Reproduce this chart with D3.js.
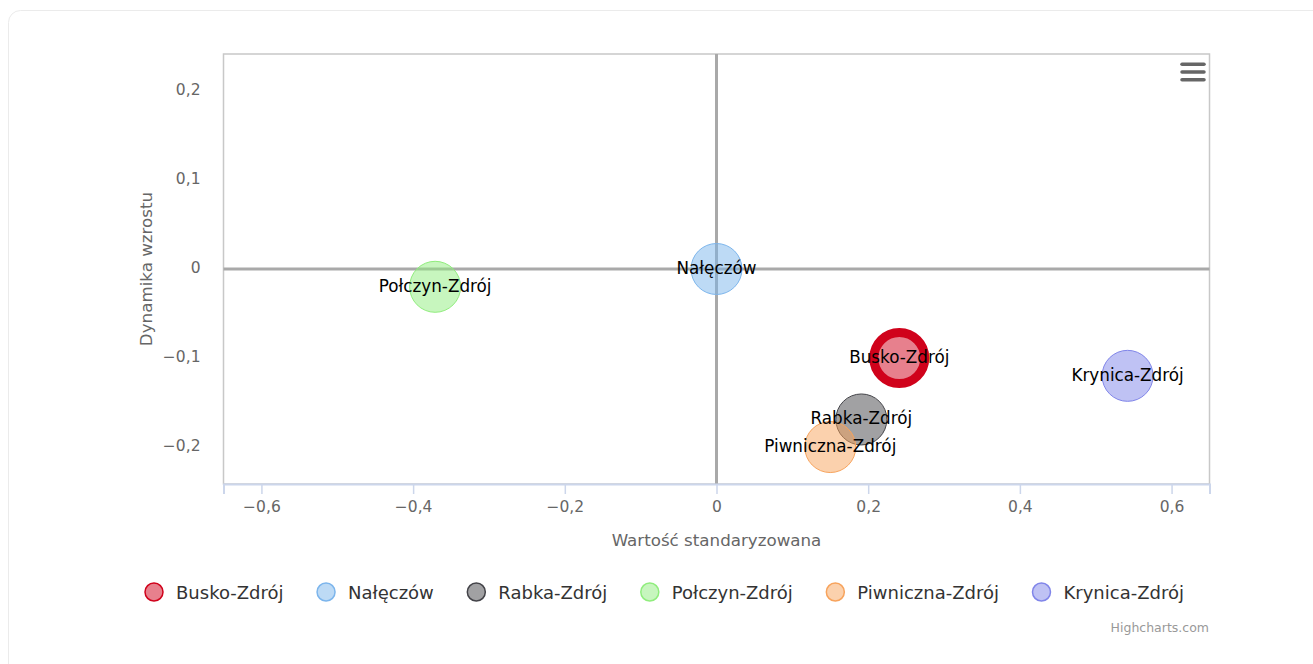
<!DOCTYPE html>
<html>
<head>
<meta charset="utf-8">
<script src="https://cdn.jsdelivr.net/npm/d3@7"></script>
<style>
  body { margin: 0; background: #ffffff; }
  text { font-family: "DejaVu Sans", sans-serif; }
</style>
</head>
<body>
<div id="chart"></div>
<script>
// data
var seriesNames = ["Busko-Zdrój", "Nałęczów", "Rabka-Zdrój", "Połczyn-Zdrój", "Piwniczna-Zdrój", "Krynica-Zdrój"];
var xValues = [0.241, 0.0, 0.191, -0.371, 0.150, 0.542];
var yValues = [-0.100, 0.0, -0.169, -0.020, -0.200, -0.120];
var zValues = [1, 1, 1, 1, 1, 1];
var seriesColors = ["#d0021b", "#7cb5ec", "#434348", "#90ed7d", "#f7a35c", "#8085e9"];
var xTicks = [-0.6, -0.4, -0.2, 0, 0.2, 0.4, 0.6];
var yTicks = [-0.2, -0.1, 0, 0.1, 0.2];

var width = 1313, height = 664;
var plotLeft = 223.5, plotRight = 1209.5, plotTop = 54, plotBottom = 484;

var pl = d3.formatLocale({decimal: ",", thousands: " ", grouping: [3], currency: ["", ""], minus: "\u2212"});
var fmt = function(v) { return v === 0 ? "0" : pl.format(".1f")(v); };

var points = seriesNames.map(function(n, i) {
  return {name: n, x: xValues[i], y: yValues[i], z: zValues[i], color: seriesColors[i]};
});

var svg = d3.select("#chart").append("svg")
  .attr("width", width)
  .attr("height", height);

// card
svg.append("rect")
  .attr("x", 8.5).attr("y", 10.5)
  .attr("width", 1330).attr("height", 700)
  .attr("rx", 12)
  .attr("fill", "#fff")
  .attr("stroke", "#ebebeb");

var x = d3.scaleLinear().domain([-0.65, 0.65]).range([plotLeft, plotRight]);
var y = d3.scaleLinear().domain([-0.2415, 0.2415]).range([plotBottom, plotTop]);
var r = d3.scaleSqrt().domain([0, d3.max(zValues)]).range([0, 25.5]);

// plot border
svg.append("rect")
  .attr("x", plotLeft).attr("y", plotTop)
  .attr("width", plotRight - plotLeft).attr("height", plotBottom - plotTop)
  .attr("fill", "none")
  .attr("stroke", "#c8c8c8")
  .attr("stroke-width", 1.5);

// zero lines
svg.append("line")
  .attr("x1", plotLeft).attr("x2", plotRight)
  .attr("y1", y(0)).attr("y2", y(0))
  .attr("stroke", "#a9a9a9").attr("stroke-width", 3);
svg.append("line")
  .attr("x1", x(0)).attr("x2", x(0))
  .attr("y1", plotTop).attr("y2", plotBottom)
  .attr("stroke", "#a9a9a9").attr("stroke-width", 3);

// x axis
var xAxis = svg.append("g")
  .attr("transform", "translate(0," + plotBottom + ")")
  .call(d3.axisBottom(x).tickValues(xTicks).tickFormat(fmt).tickSize(10).tickPadding(8));
xAxis.select(".domain").attr("stroke", "#ccd6eb").attr("stroke-width", 2);
xAxis.selectAll(".tick line").attr("stroke", "#ccd6eb").attr("stroke-width", 1.5);
xAxis.selectAll(".tick text")
  .attr("fill", "#666").attr("font-size", 15.5).attr("y", 28).attr("dy", 0)
  .style("font-family", "DejaVu Sans");

// y axis (labels only)
var yAxis = svg.append("g")
  .attr("transform", "translate(" + plotLeft + ",0)")
  .call(d3.axisLeft(y).tickValues(yTicks).tickFormat(fmt).tickSize(0).tickPadding(23));
yAxis.select(".domain").remove();
yAxis.selectAll(".tick text")
  .attr("fill", "#666").attr("font-size", 15.5).attr("dy", 3.6)
  .style("font-family", "DejaVu Sans");

// axis titles
svg.append("text")
  .attr("x", x(0)).attr("y", 545.5)
  .attr("text-anchor", "middle")
  .attr("font-size", 16.7).attr("fill", "#666")
  .text("Wartość standaryzowana");
svg.append("text")
  .attr("transform", "translate(151.5," + y(0) + ") rotate(-90)")
  .attr("text-anchor", "middle")
  .attr("font-size", 16.7).attr("fill", "#666")
  .text("Dynamika wzrostu");

// bubbles
svg.append("g").selectAll("circle")
  .data(points)
  .join("circle")
  .attr("cx", function(d) { return x(d.x); })
  .attr("cy", function(d) { return y(d.y); })
  .attr("r", function(d) { return r(d.z); })
  .attr("fill", function(d) { return d.color; })
  .attr("fill-opacity", 0.5)
  .attr("stroke", function(d) { return d.color; })
  .attr("stroke-width", function(d, i) { return i === 0 ? 9 : 1; });

// data labels
svg.append("g").selectAll("text")
  .data(points)
  .join("text")
  .attr("x", function(d) { return x(d.x); })
  .attr("y", function(d) { return y(d.y) + 5; })
  .attr("text-anchor", "middle")
  .attr("font-size", 16.8)
  .attr("fill", "#000")
  .text(function(d) { return d.name; });

// legend
var legend = svg.append("g");
var lx = 144.5;
points.forEach(function(d) {
  var item = legend.append("g");
  item.append("circle")
    .attr("cx", lx + 9.5).attr("cy", 592)
    .attr("r", 9)
    .attr("fill", d.color).attr("fill-opacity", 0.5)
    .attr("stroke", d.color).attr("stroke-width", 1.5);
  var t = item.append("text")
    .attr("x", lx + 31.5).attr("y", 598.5)
    .attr("font-size", 18).attr("fill", "#333")
    .text(d.name);
  lx = lx + 31.5 + t.node().getComputedTextLength() + 33;
});

// credits
svg.append("text")
  .attr("x", 1209).attr("y", 632)
  .attr("text-anchor", "end")
  .attr("font-size", 12.5).attr("fill", "#999")
  .text("Highcharts.com");

// menu icon
var menu = svg.append("g");
[64.3, 72, 79.7].forEach(function(yy) {
  menu.append("line")
    .attr("x1", 1182).attr("x2", 1204)
    .attr("y1", yy).attr("y2", yy)
    .attr("stroke", "#666").attr("stroke-width", 3.5)
    .attr("stroke-linecap", "round");
});
</script>
</body>
</html>
